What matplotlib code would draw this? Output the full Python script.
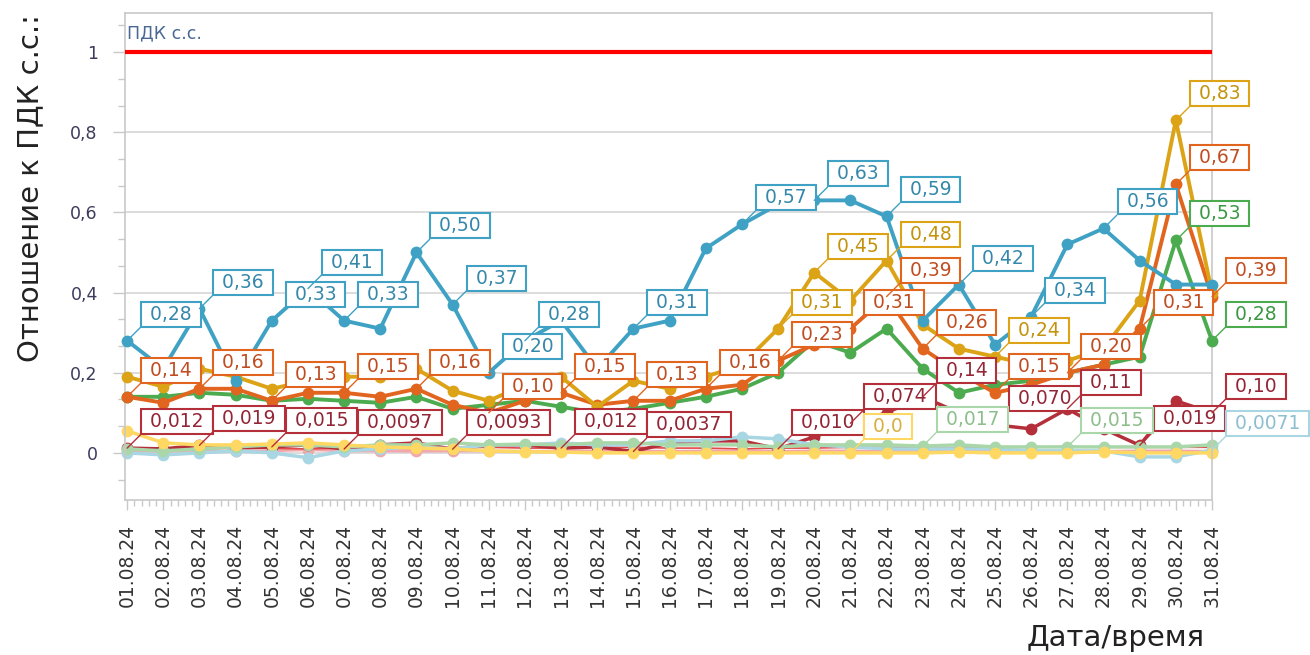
import math
import matplotlib
matplotlib.use("Agg")
import matplotlib.pyplot as plt
from matplotlib.ticker import MultipleLocator, AutoMinorLocator, FixedLocator

# ---- data (ratio to ПДК с.с., 01.08.24 .. 31.08.24) ----
dates = ["%02d.08.24" % d for d in range(1, 32)]

blue = [0.28, 0.21, 0.36, 0.18, 0.33, 0.41, 0.33, 0.31, 0.50, 0.37, 0.20, 0.28, 0.33, 0.21, 0.31, 0.33,
        0.51, 0.57, 0.62, 0.63, 0.63, 0.59, 0.33, 0.42, 0.27, 0.34, 0.52, 0.56, 0.48, 0.42, 0.42]
gold = [0.19, 0.165, 0.21, 0.19, 0.16, 0.18, 0.19, 0.19, 0.21, 0.155, 0.13, 0.17, 0.19, 0.115, 0.18, 0.16,
        0.19, 0.22, 0.31, 0.45, 0.38, 0.48, 0.32, 0.26, 0.24, 0.22, 0.23, 0.26, 0.38, 0.83, 0.40]
orange = [0.14, 0.125, 0.16, 0.16, 0.13, 0.15, 0.15, 0.14, 0.16, 0.12, 0.10, 0.13, 0.15, 0.12, 0.13, 0.13,
          0.16, 0.17, 0.23, 0.27, 0.31, 0.39, 0.26, 0.20, 0.15, 0.17, 0.20, 0.22, 0.31, 0.67, 0.39]
green = [0.14, 0.14, 0.15, 0.145, 0.13, 0.135, 0.13, 0.125, 0.14, 0.11, 0.12, 0.13, 0.115, 0.10, 0.11, 0.125,
         0.14, 0.16, 0.20, 0.28, 0.25, 0.31, 0.21, 0.15, 0.17, 0.18, 0.20, 0.22, 0.24, 0.53, 0.28]
darkred = [0.012, 0.01, 0.019, 0.012, 0.015, 0.02, 0.0097, 0.02, 0.025, 0.0093, 0.02, 0.02, 0.012, 0.015,
           0.0037, 0.025, 0.03, 0.03, 0.010, 0.04, 0.074, 0.10, 0.14, 0.10, 0.070, 0.06, 0.11, 0.06, 0.019,
           0.13, 0.10]
lyellow = [0.055, 0.025, 0.02, 0.02, 0.022, 0.025, 0.02, 0.015, 0.012, 0.01, 0.005, 0.003, 0.002, 0.0, 0.0,
           0.0, 0.0, 0.0, 0.0, 0.0, 0.0, 0.0, 0.0, 0.002, 0.0, 0.0, 0.0, 0.003, 0.0, 0.0, 0.0]
lgreen = [0.01, 0.005, 0.01, 0.015, 0.02, 0.02, 0.015, 0.02, 0.02, 0.025, 0.02, 0.022, 0.02, 0.025, 0.025,
          0.02, 0.02, 0.02, 0.015, 0.02, 0.02, 0.02, 0.017, 0.02, 0.015, 0.015, 0.015, 0.015, 0.015, 0.015, 0.02]
lblue = [0.0, -0.005, 0.0, 0.005, 0.0, -0.012, 0.005, 0.01, 0.015, 0.01, 0.02, 0.02, 0.025, 0.02, 0.02, 0.03,
         0.03, 0.04, 0.035, 0.02, 0.015, 0.01, 0.01, 0.01, 0.01, 0.005, 0.005, 0.005, -0.01, -0.01, 0.0071]
pink = [0.005, 0.004, 0.005, 0.004, 0.005, 0.008, 0.005, 0.005, 0.004, 0.005, 0.005, 0.004, 0.005, 0.005,
        0.005, 0.004, 0.005, 0.005, 0.004, 0.005, 0.005, 0.004, 0.005, 0.005, 0.004, 0.005, 0.005, 0.004,
        0.005, 0.005, 0.004]
red = [0.01, 0.012, 0.01, 0.012, 0.011, 0.01, 0.012, 0.012, 0.01, 0.012, 0.014, 0.012, 0.012, 0.014, 0.014,
       0.012, 0.012, 0.01, 0.012, 0.012, 0.014, 0.014, 0.012, 0.012, 0.014, 0.014, 0.016, 0.014, 0.014,
       0.014, 0.014]

# which points carry a value label (0-based day index)
labels_at = {
    "blue": [0, 2, 4, 5, 6, 8, 9, 10, 11, 14, 17, 19, 21, 23, 25, 27],
    "gold": [18, 19, 21, 24, 29],
    "orange": [0, 2, 4, 6, 8, 10, 12, 14, 16, 18, 20, 21, 22, 24, 26, 28, 29, 30],
    "green": [29, 30],
    "darkred": [0, 2, 4, 6, 9, 12, 14, 18, 20, 22, 24, 26, 28, 30],
    "lyellow": [20],
    "lgreen": [22, 26],
    "lblue": [30],
}

# name, values, line colour, label text colour, linewidth, markers, zorder
series = [
    ("pink", pink, "#f2a7ad", "#d08088", 2.0, True, 2.0),
    ("red", red, "#e24a4a", "#c03030", 1.2, False, 2.1),
    ("darkred", darkred, "#b42f3a", "#932636", 2.5, True, 2.15),
    ("lblue", lblue, "#a9d6e3", "#8dbfd0", 2.5, True, 2.2),
    ("lgreen", lgreen, "#aad7aa", "#8dbf8d", 2.5, True, 2.3),
    ("lyellow", lyellow, "#ffd763", "#d8b040", 2.5, True, 2.4),
    ("green", green, "#4cab4f", "#3a9843", 2.8, True, 3.0),
    ("orange", orange, "#e2651f", "#c04d22", 2.8, True, 3.1),
    ("gold", gold, "#dba315", "#c4930c", 2.8, True, 3.2),
    ("blue", blue, "#3fa2c4", "#3588aa", 2.8, True, 3.3),
]


def fmt(v):
    if v == 0:
        return "0,0"
    dec = max(2, 1 - int(math.floor(math.log10(abs(v)))))
    return ("%.*f" % (dec, v)).replace(".", ",")


W, H = 1310, 655
fig = plt.figure(figsize=(W / 100, H / 100), dpi=100)
ax = fig.add_axes([125 / W, 1 - 500 / H, (1212 - 125) / W, (500 - 13) / H])

x = list(range(len(dates)))
for name, vals, col, tcol, lw, mk, z in series:
    ax.plot(x, vals, color=col, lw=lw, zorder=z, clip_on=False,
            marker="o" if mk else None, markersize=8.5, markeredgewidth=0)

# value labels
PX = 72 / 100.0
for name, vals, col, tcol, lw, mk, z in series:
    for i in labels_at.get(name, []):
        ax.annotate(" " + fmt(vals[i]) + " ", xy=(i, vals[i]), xytext=(17 * PX, 17 * PX),
                    textcoords="offset points", ha="left", va="bottom",
                    fontsize=13.5, color=tcol, zorder=20, annotation_clip=False,
                    bbox=dict(boxstyle="square,pad=0.16", fc="white", ec=col, lw=1.5),
                    arrowprops=dict(arrowstyle="-", color=col, lw=1.0, shrinkA=0, shrinkB=0,
                                    relpos=(0, 0)))

# ПДК line
ax.axhline(1.0, color="#ff0000", lw=3.0, zorder=4)
ax.text(0.0, 1.025, "ПДК с.с.", color="#4a6894", fontsize=12.5, ha="left", va="bottom",
        transform=ax.transData)

ax.set_xlim(-0.06, 30.0)
ax.set_ylim(-0.1175, 1.0975)

ax.yaxis.set_major_locator(FixedLocator([0, 0.2, 0.4, 0.6, 0.8, 1.0]))
ax.set_yticklabels(["0", "0,2", "0,4", "0,6", "0,8", "1"])
ax.yaxis.set_minor_locator(MultipleLocator(0.2 / 3))
ax.set_xticks(x)
ax.set_xticklabels(dates, rotation=90)
ax.xaxis.set_minor_locator(AutoMinorLocator(5))

ax.grid(axis="y", color="#d6d6d6", lw=1.2, zorder=0)
ax.set_axisbelow(True)
for s in ax.spines.values():
    s.set_color("#c8c8c8")
    s.set_linewidth(1.2)

ax.tick_params(axis="y", which="major", length=8.6, width=1.0, color="#c8c8c8", pad=11,
               labelsize=12.5, labelcolor="#3c3c5c")
ax.tick_params(axis="y", which="minor", length=5, width=1.0, color="#c8c8c8")
ax.tick_params(axis="x", which="major", length=7, width=1.0, color="#c8c8c8", pad=10,
               labelsize=13.5, labelcolor="#333333")
ax.tick_params(axis="x", which="minor", length=4, width=1.0, color="#c8c8c8")

fig.text(1205 / W, 1 - 638 / H, "Дата/время", ha="right", va="center", fontsize=21,
         color="#222222")
fig.text(30 / W, 1 - 362 / H, "Отношение к ПДК с.с.:", ha="center", va="bottom", rotation=90,
         fontsize=21, color="#222222")

fig.savefig("out.png", dpi=100)
